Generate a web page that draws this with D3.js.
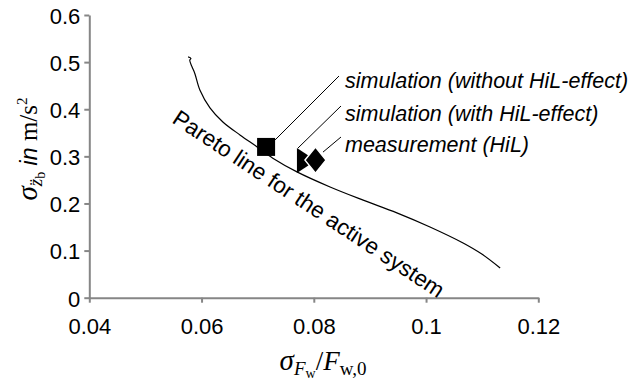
<!DOCTYPE html>
<html>
<head>
<meta charset="utf-8">
<script src="https://cdn.jsdelivr.net/npm/d3@7"></script>
<style>
  body { margin: 0; background: #fff; }
  svg { display: block; }
</style>
</head>
<body>
<div id="chart"></div>
<script>
const WIDTH = 641;
const HEIGHT = 380;

// pareto front
const curveX = [0.0576, 0.0581, 0.0579, 0.0583, 0.0588, 0.0597, 0.0615, 0.0638, 0.0669, 0.0699,
                0.0727, 0.0770, 0.0829, 0.0888, 0.0948, 0.1007, 0.1066, 0.1100, 0.1132];
const curveY = [0.511, 0.508, 0.504, 0.490, 0.476, 0.441, 0.403, 0.373, 0.345, 0.320,
                0.296, 0.267, 0.235, 0.207, 0.180, 0.150, 0.116, 0.092, 0.063];

const markerNames = ['simulation (without HiL-effect)', 'simulation (with HiL-effect)', 'measurement (HiL)'];
const markerX = [0.0715, 0.0786, 0.0803];
const markerY = [0.320, 0.291, 0.292];
const markerShapes = ['square', 'triangle', 'diamond'];

const xTicks = [0.04, 0.06, 0.08, 0.1, 0.12];
const xTickLabels = ['0.04', '0.06', '0.08', '0.1', '0.12'];
const yTicks = [0, 0.1, 0.2, 0.3, 0.4, 0.5, 0.6];
const yTickLabels = ['0', '0.1', '0.2', '0.3', '0.4', '0.5', '0.6'];

const SANS = '"Liberation Sans", Arial, sans-serif';
const SERIF = '"Liberation Serif", "DejaVu Serif", serif';
const AXISCOLOR = '#868686';

let svg = d3.select('#chart').append('svg')
    .attr('width', WIDTH)
    .attr('height', HEIGHT);

let x = d3.scaleLinear().domain([0.04, 0.12]).range([89.3, 538.3]);
let y = d3.scaleLinear().domain([0, 0.6]).range([297.7, 15]);

// axes
let xAxis = svg.append('g')
    .attr('transform', 'translate(0,' + y(0) + ')')
    .call(d3.axisBottom(x).tickValues(xTicks).tickSize(5).tickSizeOuter(0)
        .tickFormat((d, i) => xTickLabels[i]));
let yAxis = svg.append('g')
    .attr('transform', 'translate(' + x(0.04) + ',0)')
    .call(d3.axisLeft(y).tickValues(yTicks).tickSize(5).tickSizeOuter(0)
        .tickFormat((d, i) => yTickLabels[i]));

[xAxis, yAxis].forEach(g => {
    g.select('.domain').attr('stroke', AXISCOLOR).attr('stroke-width', 2);
    g.selectAll('.tick line').attr('stroke', AXISCOLOR).attr('stroke-width', 2);
    g.selectAll('.tick text')
        .attr('fill', '#000')
        .style('font-family', SANS)
        .style('font-size', '22px');
});
xAxis.selectAll('.tick text').attr('y', 21).attr('dy', '0.71em');
yAxis.selectAll('.tick text').attr('x', -9).attr('dy', '0.38em');

// pareto curve
let pts = curveX.map((v, i) => [x(v), y(curveY[i])]);
svg.append('path')
    .attr('d', d3.line().curve(d3.curveCatmullRom)(pts))
    .attr('fill', 'none')
    .attr('stroke', 'black')
    .attr('stroke-width', 1.2);

svg.append('text')
    .attr('transform', 'translate(171,122) rotate(33.5)')
    .style('font-family', SANS)
    .style('font-size', '22.5px')
    .text('Pareto line for the active system');

// markers
function shapePath(shape, cx, cy) {
    if (shape == 'square') {
        return 'M' + (cx-9) + ' ' + (cy-9) + 'h18v18h-18Z';
    } else if (shape == 'triangle') {
        return 'M' + (cx-9) + ' ' + (cy-12.5) + 'L' + (cx+10) + ' ' + cy + 'L' + (cx-9) + ' ' + (cy+12.5) + 'Z';
    } else {
        return 'M' + cx + ' ' + (cy-13) + 'L' + (cx+10.5) + ' ' + cy + 'L' + cx + ' ' + (cy+13) + 'L' + (cx-10.5) + ' ' + cy + 'Z';
    }
}

// leader line: start offset from marker, end point near the label
const leaderStart = [[9, -7], [-8, -12.5], [7.5, -8]];
const labelPos = [[345, 88], [345, 120.5], [345, 151.5]];
const leaderEnd = [[339, 76], [341, 106], [341, 137]];

markerX.forEach((mx, i) => {
    let cx = x(mx), cy = y(markerY[i]);
    svg.append('line')
        .attr('x1', cx + leaderStart[i][0])
        .attr('y1', cy + leaderStart[i][1])
        .attr('x2', leaderEnd[i][0])
        .attr('y2', leaderEnd[i][1])
        .attr('stroke', 'black')
        .attr('stroke-width', 1);
    svg.append('path')
        .attr('d', shapePath(markerShapes[i], cx, cy))
        .attr('fill', 'black')
        .attr('stroke', i == 2 ? 'white' : 'none')
        .attr('stroke-width', 1.5);
    svg.append('text')
        .attr('x', labelPos[i][0])
        .attr('y', labelPos[i][1])
        .style('font-family', SANS)
        .style('font-style', 'italic')
        .style('font-size', '21.5px')
        .text(markerNames[i]);
});

// axis titles
let xt = svg.append('text')
    .attr('x', 323)
    .attr('y', 370)
    .attr('text-anchor', 'middle')
    .style('font-family', SERIF);
xt.append('tspan').style('font-style', 'italic').style('font-size', '29px').text('σ');
xt.append('tspan').style('font-style', 'italic').style('font-size', '19px').attr('dy', 5).text('F');
xt.append('tspan').style('font-size', '14px').attr('dy', 3).text('w');
xt.append('tspan').style('font-size', '27px').attr('dy', -8).text('/');
xt.append('tspan').style('font-style', 'italic').style('font-size', '27px').text('F');
xt.append('tspan').style('font-size', '19px').attr('dy', 5).text('w,0');

let yt = svg.append('text')
    .attr('transform', 'translate(37,149) rotate(-90)')
    .attr('text-anchor', 'middle')
    .style('font-family', SERIF);
yt.append('tspan').style('font-style', 'italic').style('font-size', '29px').text('σ');
yt.append('tspan').style('font-style', 'italic').style('font-size', '19px').attr('dy', 5).text('z\u0308');
yt.append('tspan').style('font-size', '14px').attr('dy', 3).text('b');
yt.append('tspan').style('font-family', SANS).style('font-style', 'italic').style('font-size', '23px')
    .attr('dy', -8).text('\u00a0in\u00a0');
yt.append('tspan').style('font-size', '25px').text('m/s');
yt.append('tspan').style('font-size', '15px').attr('dy', -10).text('2');
</script>
</body>
</html>
